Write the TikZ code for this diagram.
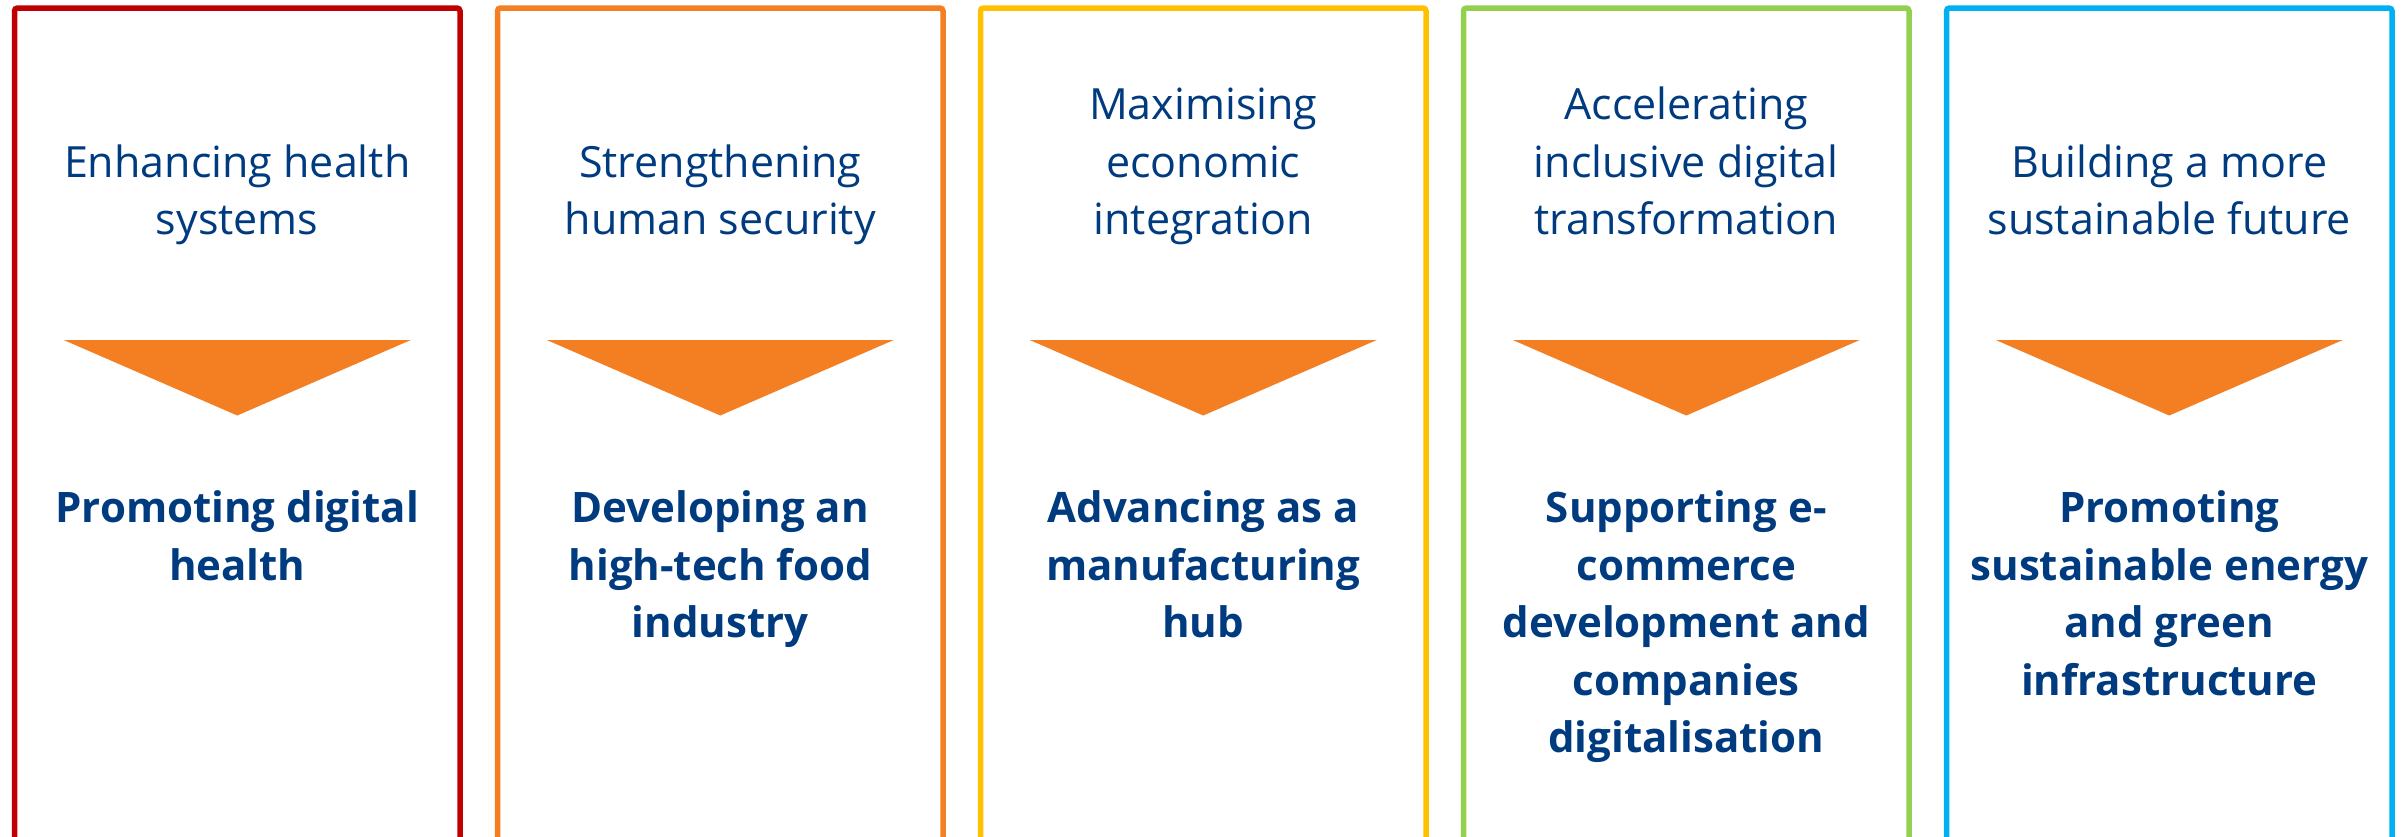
\documentclass[tikz,border=0pt]{standalone}
\usepackage{fontspec}
\setmainfont{Open Sans}
\definecolor{txtblue}{HTML}{003B7F}
\definecolor{arrowOrange}{HTML}{F47E22}
\definecolor{frameRed}{HTML}{C00000}
\definecolor{frameOrange}{HTML}{F47E22}
\definecolor{frameYellow}{HTML}{FFC000}
\definecolor{frameGreen}{HTML}{92D050}
\definecolor{frameBlue}{HTML}{00B0F0}
\tikzset{
  frame/.style={line width=5.5pt, rounded corners=3pt},
  headtext/.style={text=txtblue, align=center, inner sep=0pt, text depth=0pt,
    anchor=south, font=\fontsize{43}{57.5}\selectfont},
  goaltext/.style={text=txtblue, align=center, inner sep=0pt, text depth=0pt,
    anchor=south, font=\bfseries\fontsize{42}{57.5}\selectfont},
  chevron/.style={fill=arrowOrange, draw=none}
}
\begin{document}
\begin{tikzpicture}[x=1pt, y=-1pt]
\useasboundingbox (0,0) rectangle (2403,836);
\clip (0,0) rectangle (2403,836);
\foreach \i/\col/\head/\goal/\n in {
  0/frameRed/{Enhancing health\\systems}/{Promoting digital\\health}/2,
  1/frameOrange/{Strengthening\\human security}/{Developing an\\high-tech food\\industry}/3,
  2/frameYellow/{Maximising\\economic\\integration}/{Advancing as a\\manufacturing\\hub}/3,
  3/frameGreen/{Accelerating\\inclusive digital\\transformation}/{Supporting e-\\commerce\\development and\\companies\\digitalisation}/5,
  4/frameBlue/{Building a more\\sustainable future}/{Promoting\\sustainable energy\\and green\\infrastructure}/4}
{
  \pgfmathsetmacro\L{14.5+483*\i}
  \pgfmathsetmacro\R{\L+445.5}
  \pgfmathsetmacro\C{\L+222.75}
  \pgfmathsetmacro\G{522.7+57.5*(\n-1)}
  % open-bottomed frame of the column
  \draw[frame, draw=\col] (\L,900) -- (\L,8) -- (\R,8) -- (\R,900);
  % heading and goal
  \node[headtext] (head\i) at (\C,235) {\head};
  \node[goaltext] (goal\i) at (\C,\G) {\goal};
  % downward chevron between them
  \coordinate (tl\i) at (\C-173.5,340);
  \coordinate (tr\i) at (\C+173.5,340);
  \coordinate (tip\i) at (\C,415.5);
  \fill[chevron] (tl\i) -- (tr\i) -- (tip\i) -- cycle;
}
\end{tikzpicture}
\end{document}
